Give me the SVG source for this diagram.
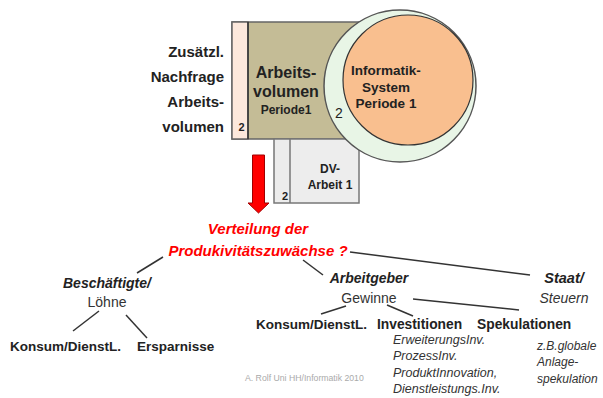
<svg xmlns="http://www.w3.org/2000/svg" width="603" height="398" viewBox="0 0 603 398">
<style>
text{font-family:"Liberation Sans",Arial,sans-serif;fill:#222}
.b{font-weight:bold}
.bi{font-weight:bold;font-style:italic}
.i{font-style:italic;fill:#333}
.r{fill:#333}
.m{text-anchor:middle}
.e{text-anchor:end}
.red{fill:#ff0000}
.ln{stroke:#333;stroke-width:1.5;fill:none}
</style>
<rect width="603" height="398" fill="#fff"/>
<g id="label-left">
<text class="b e" x="224" y="57" font-size="15">Zusätzl.</text>
<text class="b e" x="224" y="82" font-size="15">Nachfrage</text>
<text class="b e" x="224" y="107" font-size="15">Arbeits-</text>
<text class="b e" x="224" y="132" font-size="15">volumen</text>
</g>
<g id="arbeitsvolumen">
<rect x="232" y="22" width="135" height="117" fill="#c4bc96" stroke="#666" stroke-width="1.5"/>
<rect x="232" y="22" width="16" height="117" fill="#fce8dc" stroke="#666" stroke-width="1.5"/>
<line x1="248" y1="22" x2="248" y2="139" stroke="#333" stroke-width="1.5"/>
<text class="b m" x="286" y="78" font-size="16">Arbeits-</text>
<text class="b m" x="286" y="97" font-size="16">volumen</text>
<text class="b m" x="286" y="114" font-size="12">Periode1</text>
<text class="b m" x="241.5" y="131" font-size="11">2</text>
</g>
<g id="dv-arbeit">
<rect x="274" y="139" width="85" height="64" fill="#ededed" stroke="#777" stroke-width="1.5"/>
<line x1="290" y1="139" x2="290" y2="203" stroke="#777" stroke-width="1.5"/>
<text class="b m" x="330" y="173" font-size="12">DV-</text>
<text class="b m" x="330" y="189" font-size="12">Arbeit 1</text>
<text class="b m" x="285" y="200" font-size="11">2</text>
</g>
<g id="informatik-system">
<circle cx="400" cy="86" r="76" fill="#e8f5e6" stroke="#555" stroke-width="1.5"/>
<circle cx="408" cy="80" r="65" fill="#f9bf8f" stroke="#333" stroke-width="1.2"/>
<text class="b m" x="386" y="75" font-size="13.5">Informatik-</text>
<text class="b m" x="386" y="91.5" font-size="13.5">System</text>
<text class="b m" x="386" y="108" font-size="13.5">Periode 1</text>
<text class="m" x="339" y="118" font-size="14">2</text>
</g>
<g id="arrow">
<path d="M252.5,155 H264.5 V203 H269 L258.5,213 L248,203 H252.5 Z" fill="#ff0000" stroke="#a00000" stroke-width="1"/>
</g>
<g id="verteilung">
<text class="bi m red" x="258" y="234" font-size="15">Verteilung der</text>
<text class="bi m red" x="258" y="256" font-size="15">Produkivitätszuwächse ?</text>
</g>
<g id="connectors">
<line class="ln" x1="163" y1="257" x2="137" y2="273"/>
<line class="ln" x1="99" y1="311" x2="73" y2="331"/>
<line class="ln" x1="126" y1="315" x2="147" y2="338"/>
<line class="ln" x1="350" y1="252" x2="530" y2="275"/>
<line class="ln" x1="303" y1="260" x2="323" y2="275"/>
<line class="ln" x1="346" y1="306" x2="321" y2="314"/>
<line class="ln" x1="387" y1="305" x2="413" y2="316"/>
<line class="ln" x1="413" y1="299" x2="519" y2="310"/>
</g>
<g id="beschaeftigte">
<text class="bi" x="63" y="288" font-size="14">Beschäftigte/</text>
<text class="r m" x="107" y="307" font-size="14">Löhne</text>
</g>
<g id="konsum1"><text class="b" x="10" y="351" font-size="13.5">Konsum/DienstL.</text></g>
<g id="ersparnisse"><text class="b" x="137" y="351" font-size="13.5">Ersparnisse</text></g>
<g id="arbeitgeber">
<text class="bi m" x="369" y="283" font-size="14">Arbeitgeber</text>
<text class="r m" x="369" y="303" font-size="14">Gewinne</text>
</g>
<g id="staat">
<text class="bi m" x="564" y="283" font-size="14.5">Staat/</text>
<text class="i m" x="564" y="303" font-size="14">Steuern</text>
</g>
<g id="konsum2"><text class="b e" x="367" y="329" font-size="13.5">Konsum/DienstL.</text></g>
<g id="investitionen">
<text class="b" x="377" y="329" font-size="13.8">Investitionen</text>
<text class="i" x="393" y="343.5" font-size="12.5">ErweiterungsInv.</text>
<text class="i" x="393" y="360" font-size="12.5">ProzessInv.</text>
<text class="i" x="393" y="376.5" font-size="12.5">ProduktInnovation,</text>
<text class="i" x="393" y="393" font-size="12.5">Dienstleistungs.Inv.</text>
</g>
<g id="spekulationen">
<text class="b" x="477" y="329" font-size="13.8">Spekulationen</text>
<text class="i" x="537" y="350" font-size="12">z.B.globale</text>
<text class="i" x="537" y="366" font-size="12">Anlage-</text>
<text class="i" x="537" y="383" font-size="12">spekulation</text>
</g>
<g id="footer"><text x="245" y="381" font-size="8.7" style="fill:#aaa">A. Rolf Uni HH/Informatik 2010</text></g>
</svg>
